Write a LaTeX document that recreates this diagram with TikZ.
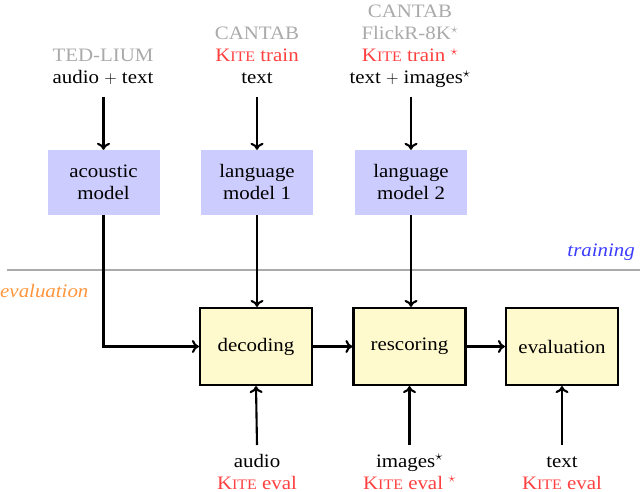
\documentclass[tikz,border=0pt]{standalone}
\usepackage{fontspec}
\setmainfont{Liberation Serif}[FakeStretch=1.1]
\usetikzlibrary{arrows.meta}
\definecolor{boxblue}{RGB}{204,204,255}
\definecolor{boxyellow}{RGB}{255,250,205}
\definecolor{kitered}{RGB}{255,64,64}
\definecolor{srcgray}{RGB}{170,170,170}
\definecolor{trainblue}{RGB}{60,60,255}
\definecolor{evalorange}{RGB}{255,150,60}
\newcommand{\kite}{K{\fontsize{14.5}{15}\selectfont ITE}}
\begin{document}
\begin{tikzpicture}[x=1pt,y=-1pt,
  every node/.style={font=\fontsize{19}{22}\selectfont},
  lbl/.style={anchor=base,inner sep=0pt},
  trainbox/.style={fill=boxblue,minimum width=112pt,minimum height=65pt,align=center,inner sep=0pt},
  evalbox/.style={fill=boxyellow,draw=black,line width=2.2pt,minimum width=112pt,minimum height=77pt,align=center,inner sep=0pt},
  arr/.style={line width=2.1pt,-{To[length=7pt,width=13pt]}}]
\useasboundingbox (0,0) rectangle (640,492);
% training boxes
\node[trainbox] (ac) at (103.5,182.5) {acoustic\\[0pt]model};
\node[trainbox] (lm1) at (257,182.5) {language\\[0pt]model 1};
\node[trainbox] (lm2) at (411,182.5) {language\\[0pt]model 2};
% evaluation boxes
\node[evalbox] (dec) at (256,346.5) {decoding};
\node[evalbox] (res) at (409.5,346.5) {rescoring};
\node[evalbox] (ev) at (562,346.5) {evaluation};
% top labels
\node[lbl,text=srcgray] (c1a) at (103,62) {TED-LIUM};
\node[lbl] (c1b) at (103,84) {audio $+$ text};
\node[lbl,text=srcgray] (c2a) at (257,40) {CANTAB};
\node[lbl,text=kitered] (c2b) at (257,62) {\kite{} train};
\node[lbl] (c2c) at (257,84) {text};
\node[lbl,text=srcgray] (c3a) at (410,18) {CANTAB};
\node[lbl,text=srcgray] (c3b) at (410,40) {FlickR-8K$^\star$};
\node[lbl,text=kitered] (c3c) at (410,62) {\kite{} train $^\star$};
\node[lbl] (c3d) at (410,84) {text $+$ images$^\star$};
% bottom labels
\node[lbl] (b1a) at (257,467) {audio};
\node[lbl,text=kitered] (b1b) at (257,489) {\kite{} eval};
\node[lbl] (b2a) at (409.5,467) {images$^\star$};
\node[lbl,text=kitered] (b2b) at (409.5,489) {\kite{} eval $^\star$};
\node[lbl] (b3a) at (562,467) {text};
\node[lbl,text=kitered] (b3b) at (562,489) {\kite{} eval};
% phase labels and separator
\node[lbl,text=trainblue,anchor=base east] (tr) at (635,256) {\itshape training};
\node[lbl,text=evalorange,anchor=base west] (evl) at (0,297) {\itshape evaluation};
\coordinate (sepL) at (7,270);
\coordinate (sepR) at (640,270);
\draw[srcgray,line width=1.6pt] (sepL) -- (sepR);
% connectors
\coordinate (s1) at (103.5,97);
\coordinate (s2) at (257,97);
\coordinate (s3) at (411,97);
\draw[arr] (s1) -- (ac.north);
\draw[arr] (s2) -- (lm1.north);
\draw[arr] (s3) -- (lm2.north);
\draw[arr] (ac.south) |- (dec.west);
\draw[arr] (lm1.south) -- (dec.north -| lm1.south);
\draw[arr] (lm2.south) -- (res.north -| lm2.south);
\draw[arr] (dec.east) -- (res.west);
\draw[arr] (res.east) -- (ev.west);
\coordinate (e1) at (257,445);
\coordinate (e2) at (409.5,445);
\coordinate (e3) at (562,445);
\draw[arr] (e1) -- (dec.south);
\draw[arr] (e2) -- (res.south);
\draw[arr] (e3) -- (ev.south);
\end{tikzpicture}
\end{document}
